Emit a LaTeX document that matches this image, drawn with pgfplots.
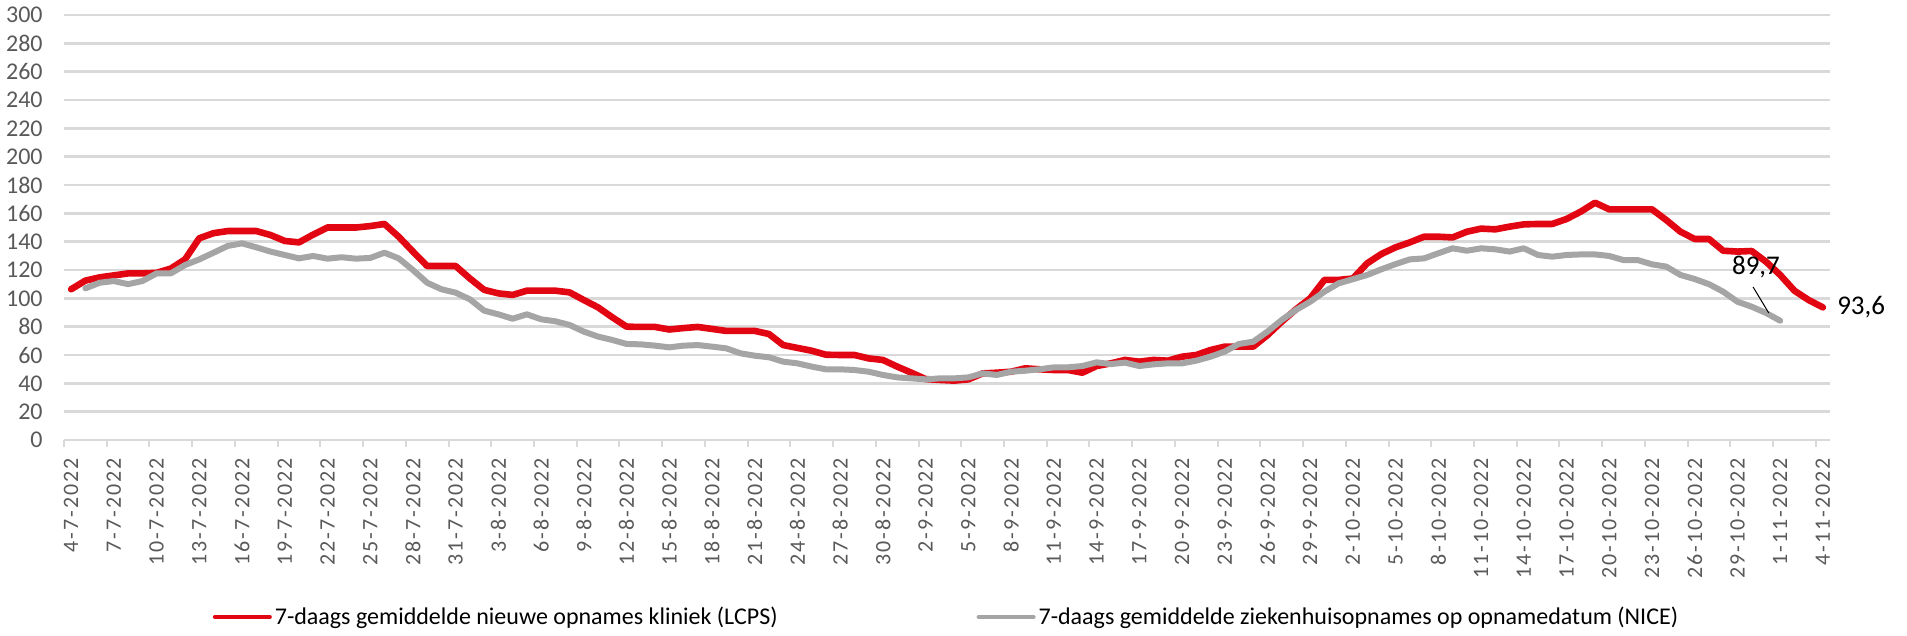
\documentclass[border=0pt]{standalone}
\usepackage{fontspec}
\setmainfont{Carlito}
\newfontfamily\spacedfont[LetterSpace=9]{Carlito}
\usepackage{pgfplots}
\pgfplotsset{compat=1.18}
\definecolor{lcpsred}{RGB}{226,6,19}
\definecolor{nicegray}{RGB}{165,165,165}
\definecolor{gridgray}{RGB}{217,217,217}
\definecolor{labgray}{RGB}{89,89,89}
\begin{document}
\begin{tikzpicture}
\useasboundingbox (-32pt,-98pt) rectangle (921.5pt,220pt);
\begin{axis}[
  at={(0,0)}, anchor=south west,
  scale only axis, width=883pt, height=212.5pt,
  xmin=-0.5, xmax=123.5, ymin=0, ymax=300,
  axis lines=left, axis line style={-},
  x axis line style={draw=gridgray, line width=1.2pt},
  y axis line style={draw=none},
  ytick={0,20,...,300},
  ymajorgrids, grid style={draw=gridgray, line width=1.2pt},
  xtick={0,3,...,123},
  xticklabels={4-7-2022,7-7-2022,10-7-2022,13-7-2022,16-7-2022,19-7-2022,22-7-2022,25-7-2022,28-7-2022,31-7-2022,3-8-2022,6-8-2022,9-8-2022,12-8-2022,15-8-2022,18-8-2022,21-8-2022,24-8-2022,27-8-2022,30-8-2022,2-9-2022,5-9-2022,8-9-2022,11-9-2022,14-9-2022,17-9-2022,20-9-2022,23-9-2022,26-9-2022,29-9-2022,2-10-2022,5-10-2022,8-10-2022,11-10-2022,14-10-2022,17-10-2022,20-10-2022,23-10-2022,26-10-2022,29-10-2022,1-11-2022,4-11-2022},
  minor xtick={-0.5,2.5,...,123},
  major tick length=0pt, minor tick length=3.5pt, tick align=outside,
  minor x tick style={draw=gridgray, line width=1pt},
  /pgf/number format/assume math mode=true,
  yticklabel style={font=\fontsize{12}{12}\selectfont, text=labgray, inner sep=0pt, xshift=-10.5pt},
  xticklabel style={font=\spacedfont\fontsize{11}{11}\selectfont, text=labgray, inner sep=0pt, yshift=-9pt, rotate=90, anchor=east},
  clip=false,
  legend style={at={(axis description cs:0.5,-0.4165)}, anchor=center, draw=none, fill=none,
    legend columns=2, font=\fontsize{12}{14}\selectfont,
    /tikz/every even column/.append style={column sep=98pt}, nodes={inner sep=1.5pt}},
  legend image code/.code={\draw[#1, line width=2pt] (0pt,0pt) -- (27.5pt,0pt);},
]
\addplot[lcpsred, line width=3.3pt, line join=round, line cap=round] coordinates {
(0,106.4)(1,112.5)(2,114.8)(3,116.2)(4,117.6)(5,117.6)(6,118)(7,121)(8,127.5)(9,142.4)
(10,146)(11,147.5)(12,147.5)(13,147.5)(14,144.7)(15,140.5)(16,139.5)(17,145)(18,150)(19,150)
(20,150)(21,151)(22,152.5)(23,143.5)(24,133)(25,122.8)(26,122.8)(27,122.8)(28,114)(29,106)
(30,103.5)(31,102.4)(32,105.4)(33,105.4)(34,105.4)(35,104.2)(36,98.8)(37,93.6)(38,86.6)(39,80)
(40,79.8)(41,79.8)(42,78)(43,79)(44,79.8)(45,78.4)(46,77)(47,77)(48,77)(49,74.8)
(50,67)(51,65)(52,63)(53,60.2)(54,60)(55,60)(56,57.6)(57,56.5)(58,51.8)(59,47.5)
(60,43)(61,42.4)(62,41.9)(63,42.8)(64,47)(65,47.5)(66,48.2)(67,50.6)(68,49.9)(69,49.4)
(70,49.4)(71,47.5)(72,52.2)(73,54.1)(74,56.5)(75,55.3)(76,56.5)(77,56)(78,58.8)(79,60)
(80,63.5)(81,65.9)(82,65.9)(83,65.9)(84,74)(85,83.5)(86,92.2)(87,100)(88,113)(89,113)
(90,114)(91,124.7)(92,131.3)(93,136)(94,139.5)(95,143.5)(96,143.5)(97,143)(98,147)(99,149.2)
(100,148.7)(101,150.6)(102,152.2)(103,152.5)(104,152.5)(105,156)(106,161.2)(107,167.5)(108,162.8)(109,162.8)
(110,162.8)(111,162.8)(112,155.3)(113,147)(114,141.9)(115,141.9)(116,133.6)(117,133)(118,133.4)(119,125.9)
(120,116.5)(121,105.4)(122,98.8)(123,93.6)};
\addlegendentry{7-daags gemiddelde nieuwe opnames kliniek (LCPS)}
\addplot[nicegray, line width=3pt, line join=round, line cap=round] coordinates {
(1,107)(2,111)(3,112.2)(4,110)(5,112.2)(6,117.6)(7,117.6)(8,123.5)(9,127.5)
(10,132.2)(11,137)(12,138.8)(13,136)(14,133)(15,130.6)(16,128.2)(17,129.9)(18,128)(19,129)
(20,128)(21,128.5)(22,132.2)(23,128.2)(24,120)(25,111)(26,106.4)(27,104)(28,99.3)(29,91.3)
(30,88.7)(31,85.6)(32,88.7)(33,85.2)(34,83.8)(35,81.2)(36,76.5)(37,73)(38,70.6)(39,67.8)
(40,67.5)(41,66.6)(42,65.4)(43,66.6)(44,67)(45,65.9)(46,64.7)(47,61.2)(48,59.5)(49,58.4)
(50,55.3)(51,54.1)(52,51.8)(53,49.9)(54,49.9)(55,49.4)(56,48.2)(57,45.9)(58,44.2)(59,43.5)
(60,42.8)(61,43.5)(62,43.5)(63,44.2)(64,47)(65,45.9)(66,48.2)(67,48.9)(68,49.9)(69,51.3)
(70,51.3)(71,52.2)(72,54.8)(73,53.6)(74,54.6)(75,52.2)(76,53.4)(77,54.1)(78,54.1)(79,56)
(80,58.8)(81,62.4)(82,67.8)(83,69.4)(84,76.5)(85,84.7)(86,91.8)(87,97.6)(88,104.7)(89,110.6)
(90,113.5)(91,116.5)(92,120.5)(93,124.2)(94,127.5)(95,128.2)(96,131.8)(97,135.3)(98,133.6)(99,135.3)
(100,134.6)(101,133)(102,135.3)(103,130.6)(104,129.4)(105,130.6)(106,131)(107,131)(108,129.9)(109,127)
(110,127)(111,124)(112,122.4)(113,116.5)(114,113.6)(115,110)(116,104.7)(117,97.6)(118,94.1)(119,89.7)
(120,84.2)};
\addlegendentry{7-daags gemiddelde ziekenhuisopnames op opnamedatum (NICE)}
\node[anchor=west, inner sep=0pt, xshift=7pt, font=\fontsize{13.5}{13.5}\selectfont] at (axis cs:123,93.6) {93,6};
\node[inner sep=0pt, font=\fontsize{13.5}{13.5}\selectfont] at (axis cs:118.3,122.1) {89,7};
\draw[black, line width=0.5pt] (axis cs:118.1,108) -- (axis cs:119.2,89.6);
\end{axis}
\end{tikzpicture}
\end{document}
